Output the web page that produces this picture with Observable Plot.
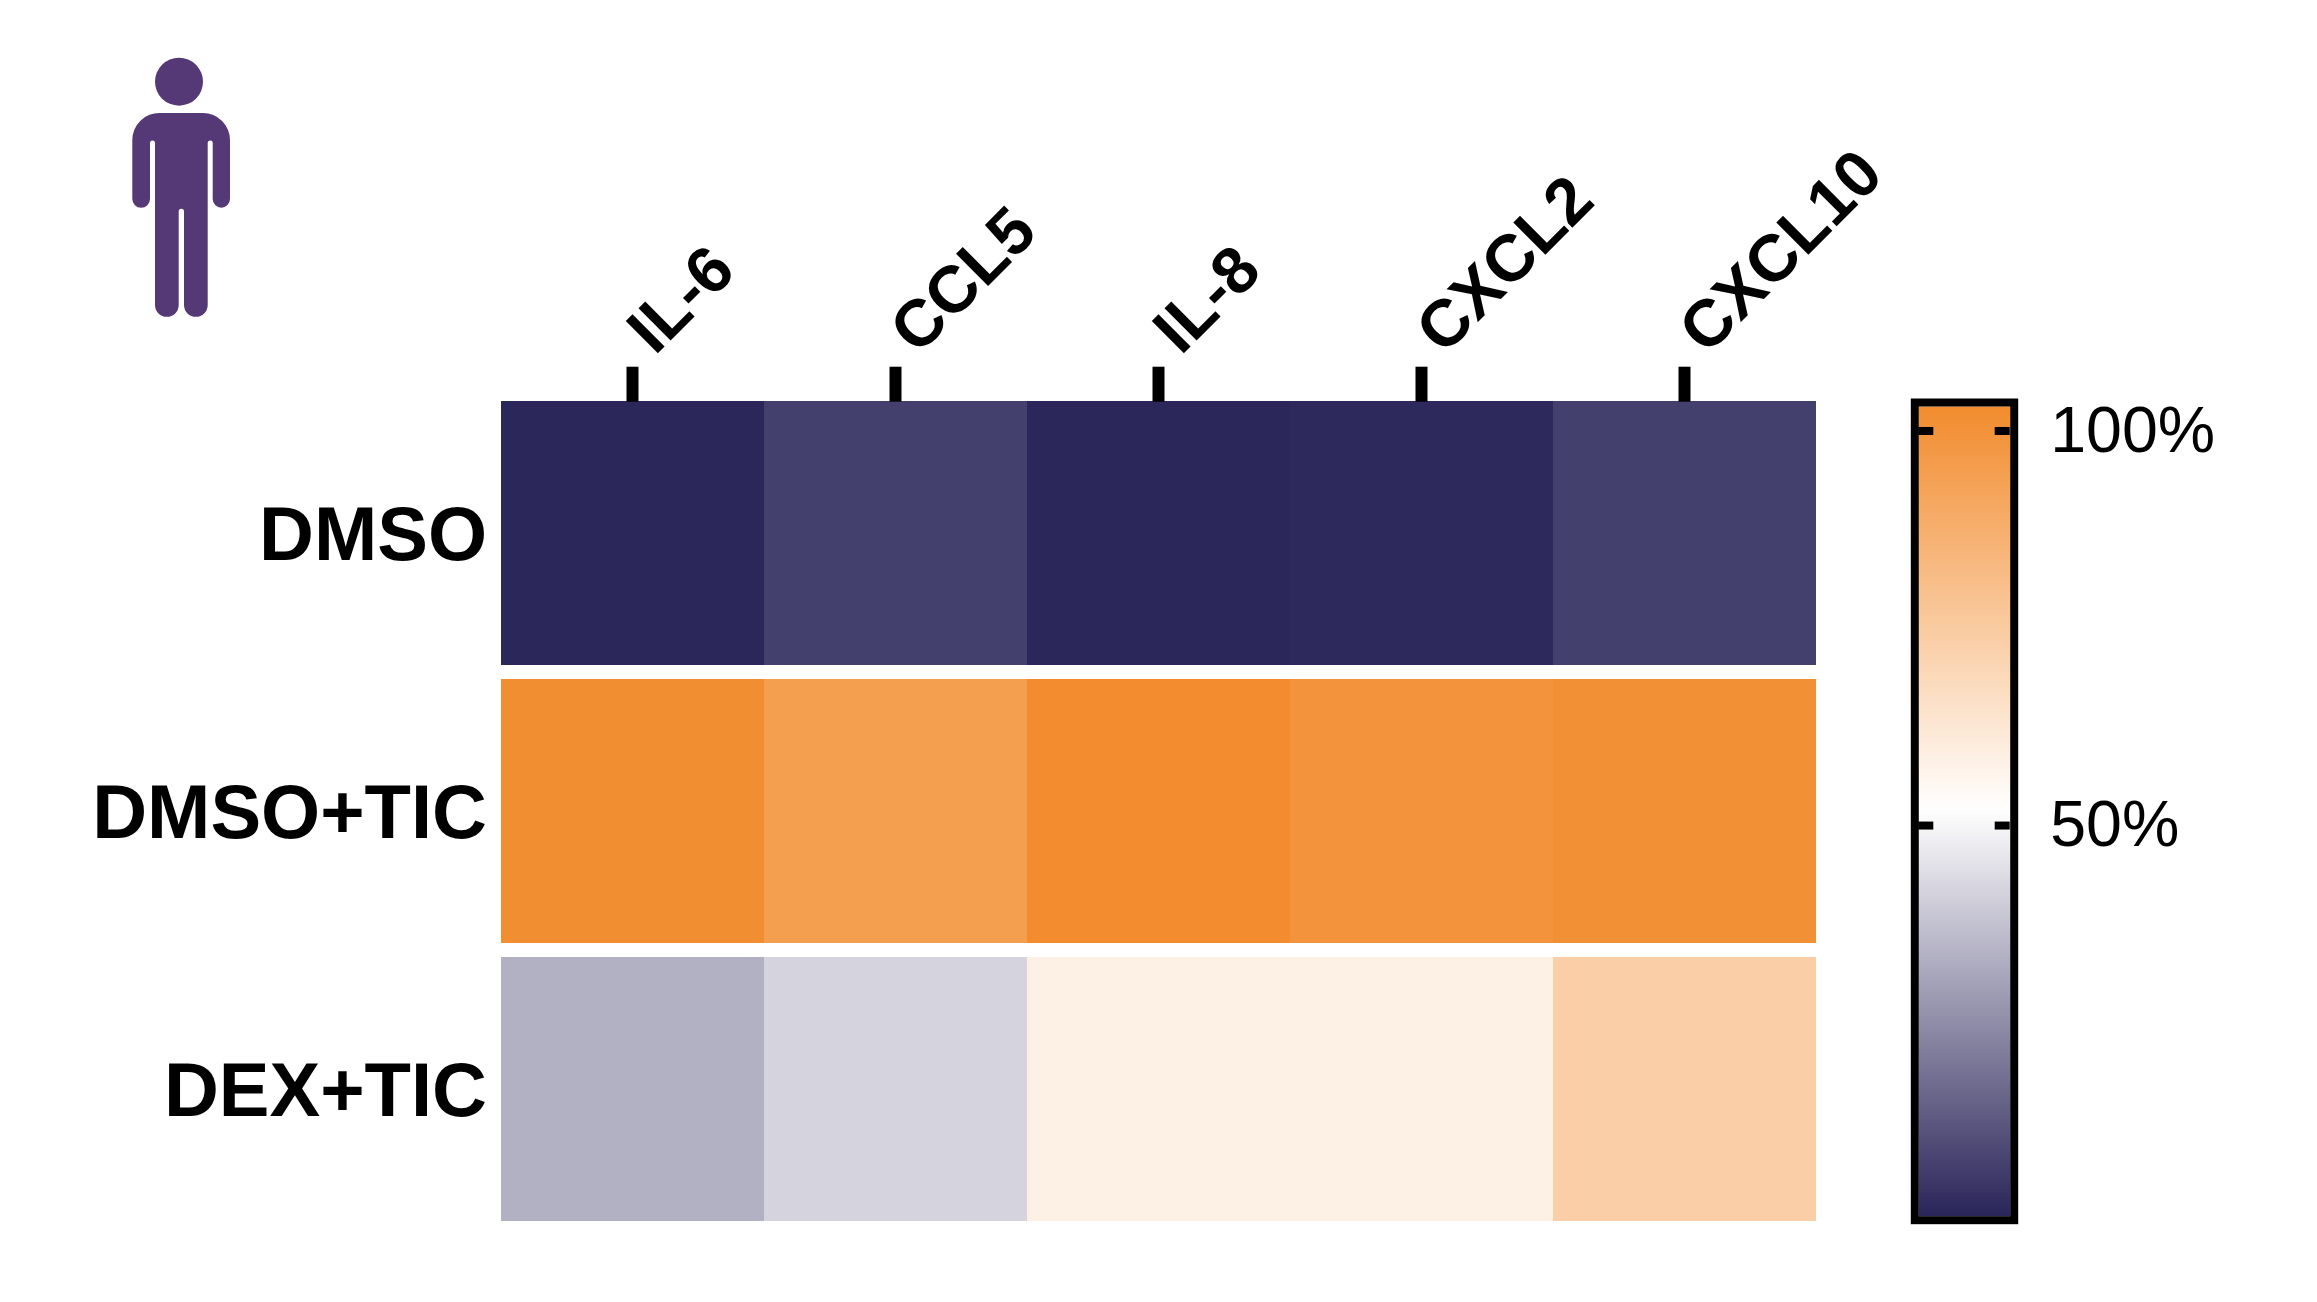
<!DOCTYPE html>
<html>
<head>
<meta charset="utf-8">
<script src="https://cdn.jsdelivr.net/npm/d3@7"></script>
<script src="https://cdn.jsdelivr.net/npm/@observablehq/plot@0.6"></script>
<style>
html,body{margin:0;padding:0;background:#fff}
#wrap{position:relative;width:2317px;height:1302px}
svg{display:block}
#wrap > svg:last-child{position:absolute;left:1900px;top:0;background:none}
</style>
</head>
<body>
<div id="wrap"></div>
<script>
const cytokines = ["IL-6", "CCL5", "IL-8", "CXCL2", "CXCL10"];
const treatments = ["DMSO", "DMSO+TIC", "DEX+TIC"];
const dmso = [1, 6.9, 1, 1.4, 6.8];
const dmsoTic = [102, 95, 103, 99.5, 101.5];
const dexTic = [33.4, 41.9, 58.6, 58.5, 73.2];
const colorDomain = [0.5, 52, 103.1];
const colorRange = ["#2a2559", "#ffffff", "#f28c2e"];
const colorTicks = [50, 100];

const table = treatments.flatMap((t, i) =>
  [dmso, dmsoTic, dexTic][i].map((v, j) => ({treatment: t, cytokine: cytokines[j], value: v})));
const color = {type: "linear", domain: colorDomain, range: colorRange, clamp: true};
const font = "'Liberation Sans', Arial, sans-serif";

const personPath = "M160 113H203A27 27 0 0 1 230 140V199A8.65 8.65 0 0 1 212.7 199V143A2.5 2.5 0 0 0 207.7 143V305A11.85 11.85 0 0 1 184 305V211.5A2.65 2.65 0 0 0 178.7 211.5V305A11.85 11.85 0 0 1 155 305V143A2.5 2.5 0 0 0 150 143V199A8.85 8.85 0 0 1 132.3 199V140A27 27 0 0 1 160 113Z";
function person() {
  const g = d3.create("svg:g").attr("fill", "#553876");
  g.append("circle").attr("cx", 179).attr("cy", 81.7).attr("r", 24);
  g.append("path").attr("d", personPath);
  return g.node();
}

const main = Plot.plot({
  width: 2317, height: 1302,
  marginLeft: 500.5, marginRight: 501.5, marginTop: 400.7, marginBottom: 81,
  style: {fontFamily: font, background: "#fff", color: "#000"},
  x: {domain: cytokines, padding: 0, round: false, label: null},
  y: {domain: treatments, paddingInner: 0.05, paddingOuter: 0, round: false, label: null},
  color,
  marks: [
    Plot.cell(table, {x: "cytokine", y: "treatment", fill: "value", inset: 0, shapeRendering: "crispEdges"}),
    Plot.axisX({anchor: "top", tickSize: 35, fill: "none", strokeWidth: 12, label: null}),
    Plot.text(cytokines, {x: d => d, frameAnchor: "top", dx: -11, dy: -78, rotate: -45, textAnchor: "start", fontSize: 66, fontWeight: "bold", fill: "#000"}),
    Plot.axisY({anchor: "left", tickSize: 0, tickPadding: 14, dy: 2, fontSize: 76, fontWeight: "bold", label: null}),
    person
  ]
});

const bar = Plot.plot({
  width: 417, height: 1302,
  marginLeft: 18.3, marginRight: 307.3, marginTop: 406, marginBottom: 86.3,
  style: {fontFamily: font, background: "none", color: "#000"},
  x: {domain: [0, 91.4], axis: null},
  y: {domain: [colorDomain[0], colorDomain[2]], label: null},
  color,
  marks: [
    Plot.raster({fill: (x, y) => y, x1: 0, x2: 91.4, y1: colorDomain[0], y2: colorDomain[2], pixelSize: 1, imageRendering: "auto"}),
    Plot.ruleY(colorTicks, {x1: 0, x2: 15, stroke: "#000", strokeWidth: 8}),
    Plot.ruleY(colorTicks, {x1: 76.4, x2: 91.4, stroke: "#000", strokeWidth: 8}),
    Plot.frame({stroke: "#000", strokeWidth: 8, inset: -4}),
    Plot.axisY({anchor: "right", ticks: colorTicks, tickSize: 0, tickPadding: 40, tickFormat: d => d + "%", fontSize: 64.5, label: null})
  ]
});

document.getElementById("wrap").append(main, bar);
</script>
</body>
</html>
